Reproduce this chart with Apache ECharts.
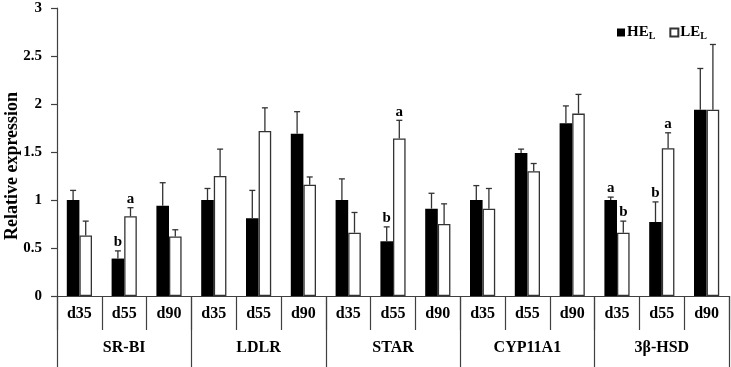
<!DOCTYPE html>
<html>
<head>
<meta charset="utf-8">
<script src="https://cdn.jsdelivr.net/npm/echarts@6/dist/echarts.min.js"></script>
<style>
  html, body { margin: 0; padding: 0; background: #fff; }
  #main { width: 731px; height: 367px; }
</style>
</head>
<body>
<div id="main"></div>
<script>
// values
const days = ['d35', 'd55', 'd90', 'd35', 'd55', 'd90', 'd35', 'd55', 'd90', 'd35', 'd55', 'd90', 'd35', 'd55', 'd90'];
const genes = ['SR-BI', 'LDLR', 'STAR', 'CYP11A1', '3β-HSD'];

const heValues = [1.00, 0.39, 0.94, 1.00, 0.81, 1.69, 1.00, 0.57, 0.91, 1.00, 1.49, 1.80, 1.00, 0.77, 1.94];
const heErrors = [0.10, 0.08, 0.24, 0.12, 0.29, 0.23, 0.22, 0.15, 0.16, 0.15, 0.04, 0.18, 0.03, 0.21, 0.43];
const heLetters = ['', 'b', '', '', '', '', '', 'b', '', '', '', '', 'a', 'b', ''];

const leValues = [0.63, 0.83, 0.62, 1.25, 1.72, 1.16, 0.66, 1.64, 0.75, 0.91, 1.30, 1.90, 0.66, 1.54, 1.94];
const leErrors = [0.15, 0.09, 0.07, 0.28, 0.24, 0.08, 0.21, 0.19, 0.21, 0.21, 0.08, 0.20, 0.12, 0.16, 0.68];
const leLetters = ['', 'a', '', '', '', '', '', 'a', '', '', '', '', 'b', 'a', ''];

const yTicks = { min: 0, max: 3, interval: 0.5 };

const FONT = '"Liberation Serif", "Times New Roman", serif';
const AXIS = '#404040';
const BAR_W = 12.6;

function errorBars(sign, letters) {
  return function (params, api) {
    const i = api.value(0);
    const top = api.coord([i, api.value(1)]);
    const end = api.coord([i, api.value(1) + api.value(2)]);
    const x = top[0] + sign * BAR_W / 2;
    const style = { stroke: '#333', lineWidth: 1.3 };
    const children = [
      { type: 'line', shape: { x1: x, y1: top[1], x2: x, y2: end[1] }, style: style },
      { type: 'line', shape: { x1: x - 3, y1: end[1], x2: x + 3, y2: end[1] }, style: style }
    ];
    if (letters[i]) {
      children.push({
        type: 'text',
        style: {
          x: x, y: end[1] - 1,
          text: letters[i],
          fill: '#000',
          font: 'bold 15px ' + FONT,
          textAlign: 'center',
          textVerticalAlign: 'bottom'
        }
      });
    }
    return { type: 'group', children: children };
  };
}

const chart = echarts.init(document.getElementById('main'));

const option = {
  animation: false,
  grid: { left: 57, right: 2, top: 8, bottom: 71 },
  legend: {
    data: ['HE', 'LE'],
    left: 612,
    top: 20,
    icon: 'rect',
    itemWidth: 8,
    itemHeight: 8,
    itemGap: 14,
    formatter: name => '{m|' + name + '}{s|L}',
    textStyle: {
      padding: [0, 0, 0, -3],
      rich: {
        m: { fontFamily: FONT, fontWeight: 'bold', fontSize: 15, color: '#000', lineHeight: 18 },
        s: { fontFamily: FONT, fontWeight: 'bold', fontSize: 10, color: '#000', lineHeight: 8, verticalAlign: 'bottom' }
      }
    }
  },
  graphic: [{
    type: 'text',
    x: 12,
    y: 166,
    rotation: Math.PI / 2,
    style: {
      text: 'Relative expression',
      font: 'bold 18px ' + FONT,
      fill: '#000',
      textAlign: 'center',
      textVerticalAlign: 'middle'
    }
  }],
  xAxis: [
    {
      type: 'category',
      data: days,
      position: 'bottom',
      axisLine: { show: true, lineStyle: { color: AXIS, width: 1.2 } },
      axisTick: { show: true, interval: 0, length: 34, lineStyle: { color: AXIS, width: 1.2 } },
      axisLabel: { interval: 0, margin: 10, color: '#000', fontFamily: FONT, fontWeight: 'bold', fontSize: 16 }
    },
    {
      type: 'category',
      data: genes,
      position: 'bottom',
      axisLine: { show: true, lineStyle: { color: AXIS, width: 1.2 } },
      axisTick: { show: true, interval: 0, length: 71, lineStyle: { color: AXIS, width: 1.2 } },
      axisLabel: { interval: 0, margin: 44, color: '#000', fontFamily: FONT, fontWeight: 'bold', fontSize: 16 }
    }
  ],
  yAxis: {
    type: 'value',
    min: yTicks.min,
    max: yTicks.max,
    interval: yTicks.interval,
    axisLine: { show: true, lineStyle: { color: AXIS, width: 1.2 } },
    axisTick: { show: true, length: 6, lineStyle: { color: AXIS, width: 1.2 } },
    axisLabel: { margin: 15, color: '#000', fontFamily: FONT, fontWeight: 'bold', fontSize: 15 },
    splitLine: { show: false }
  },
  series: [
    {
      name: 'HE',
      type: 'bar',
      data: heValues,
      barWidth: BAR_W,
      barGap: '0%',
      itemStyle: { color: '#000', borderColor: '#000', borderWidth: 0 }
    },
    {
      name: 'LE',
      type: 'bar',
      data: leValues,
      barWidth: BAR_W,
      barGap: '0%',
      itemStyle: { color: '#fff', borderColor: '#333', borderWidth: 1.3 }
    },
    {
      type: 'custom',
      renderItem: errorBars(-1, heLetters),
      data: heValues.map((v, i) => [i, v, heErrors[i]]),
      encode: { x: 0, y: 1 },
      z: 3
    },
    {
      type: 'custom',
      renderItem: errorBars(1, leLetters),
      data: leValues.map((v, i) => [i, v, leErrors[i]]),
      encode: { x: 0, y: 1 },
      z: 3
    }
  ]
};

chart.setOption(option);
</script>
</body>
</html>
